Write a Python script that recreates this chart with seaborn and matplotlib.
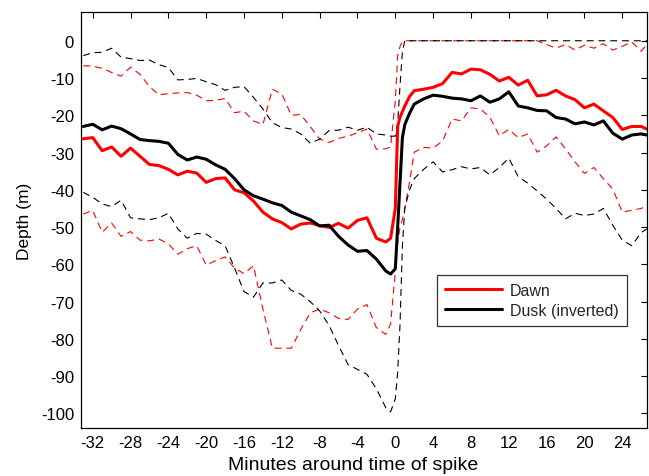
import numpy as np
import pandas as pd
import matplotlib
matplotlib.use("Agg")
import matplotlib.pyplot as plt
from matplotlib.lines import Line2D
import seaborn as sns

# ---- data (minutes around spike) ----
minutes = [-33, -32, -31, -30, -29, -28, -27, -26, -25, -24, -23, -22, -21, -20,
           -19, -18, -17, -16, -15, -14, -13, -12, -11, -10, -9, -8, -7, -6, -5,
           -4, -3, -2, -1, -0.5, 0, 0.25, 0.5, 0.75, 1, 1.5, 2, 3, 4, 5, 6, 7, 8,
           9, 10, 11, 12, 13, 14, 15, 16, 17, 18, 19, 20, 21, 22, 23, 24, 25, 26,
           26.6]

dawn_mean = [-26.3, -26.0, -29.5, -28.5, -31.0, -28.8, -31.0, -33.2, -33.5, -34.5,
             -36.0, -35.0, -35.5, -38.0, -37.0, -36.8, -40.0, -40.8, -43.0, -46.0,
             -47.8, -48.8, -50.5, -49.2, -48.9, -49.6, -50.1, -49.0, -50.3, -48.2,
             -47.5, -53.0, -54.0, -53.0, -45.0, -23.0, -20.5, -19.0, -17.5, -15.0,
             -13.4, -13.0, -12.5, -11.5, -8.5, -8.9, -7.6, -7.8, -9.0, -10.8, -9.8,
             -11.9, -10.6, -14.8, -14.5, -13.3, -14.8, -15.8, -18.0, -17.0, -18.8,
             -20.6, -23.8, -23.0, -23.0, -23.7]

dusk_mean = [-23.0, -22.4, -23.9, -22.9, -23.6, -25.0, -26.5, -26.8, -27.0, -27.5,
             -30.5, -32.0, -31.2, -31.8, -33.3, -34.5, -37.0, -40.0, -41.6, -42.5,
             -43.5, -44.2, -46.0, -47.0, -48.0, -49.7, -49.5, -52.5, -54.8, -56.5,
             -56.3, -58.6, -61.8, -62.6, -61.2, -50.0, -38.0, -26.0, -22.5, -19.5,
             -17.0, -15.6, -14.6, -14.9, -15.4, -15.6, -16.1, -14.8, -16.5, -15.6,
             -13.7, -17.5, -18.0, -18.7, -18.8, -20.6, -21.0, -22.3, -21.8, -22.6,
             -21.5, -24.8, -26.4, -25.3, -25.0, -25.3]

dawn_upper = [-6.7, -6.8, -7.4, -8.5, -9.5, -7.1, -9.0, -12.3, -14.5, -14.2, -14.0,
              -13.9, -14.6, -16.1, -16.0, -15.5, -19.3, -18.9, -21.5, -22.5, -13.0,
              -14.3, -20.0, -19.8, -23.0, -26.4, -27.3, -26.2, -25.6, -24.7, -23.7,
              -29.1, -29.0, -28.5, -16.0, -4.0, -1.5, -0.2, 0.0, 0.0, 0.0, 0.0, 0.0,
              0.0, 0.0, 0.0, 0.0, 0.0, 0.0, 0.0, 0.0, 0.0, 0.0, 0.0, -1.0, -2.0,
              -1.0, -2.5, -1.2, -2.0, -0.8, -2.5, -1.5, -0.3, -2.8, -1.0]

dawn_lower = [-46.5, -45.5, -51.4, -48.9, -52.5, -51.2, -53.5, -53.7, -53.2, -54.5,
              -57.3, -55.8, -55.0, -60.2, -59.0, -58.0, -61.0, -62.5, -60.4, -72.0,
              -82.5, -82.5, -82.5, -77.5, -73.0, -72.0, -73.0, -74.5, -74.8, -72.0,
              -70.8, -77.0, -78.8, -76.0, -62.0, -54.0, -50.0, -48.0, -45.0, -38.0,
              -29.9, -28.6, -28.8, -26.9, -21.0, -21.5, -18.0, -18.3, -20.5, -25.5,
              -23.8, -26.0, -25.0, -29.9, -28.2, -25.8, -29.0, -32.5, -35.6, -34.0,
              -37.0, -39.8, -46.0, -45.5, -45.0, -44.3]

dusk_upper = [-4.0, -3.2, -3.1, -2.0, -4.4, -4.8, -5.3, -5.2, -6.4, -7.2, -10.5,
              -10.4, -10.1, -11.0, -11.8, -13.3, -12.5, -12.3, -15.2, -18.3, -22.0,
              -23.3, -23.7, -25.0, -27.5, -26.4, -24.1, -24.0, -23.2, -24.0, -23.2,
              -25.0, -25.3, -25.6, -25.6, -22.0, -12.0, -3.0, 0.0, 0.0, 0.0, 0.0,
              0.0, 0.0, 0.0, 0.0, 0.0, 0.0, 0.0, 0.0, 0.0, 0.0, 0.0, 0.0, 0.0, 0.0,
              0.0, 0.0, 0.0, 0.0, 0.0, 0.0, 0.0, 0.0, 0.0, 0.0]

dusk_lower = [-40.7, -42.0, -43.8, -44.5, -42.8, -47.5, -47.8, -48.0, -47.5, -46.3,
              -50.5, -53.0, -51.7, -51.9, -53.6, -55.0, -61.0, -67.3, -68.8, -65.0,
              -65.0, -64.2, -67.0, -68.0, -70.0, -72.5, -76.4, -81.8, -86.9, -88.2,
              -89.5, -93.4, -98.5, -99.6, -96.1, -89.0, -76.0, -55.0, -45.0, -40.0,
              -37.0, -34.5, -32.5, -35.2, -34.6, -33.8, -34.4, -34.0, -36.0, -34.0,
              -31.5, -36.5, -38.2, -40.3, -42.5, -45.0, -47.8, -46.3, -46.9, -46.5,
              -45.0, -49.5, -53.5, -55.0, -51.5, -50.5]

xticks = list(range(-32, 25, 4))
yticks = list(range(-100, 1, 10))
legend_labels = ["Dawn", "Dusk (inverted)"]

# ---- style ----
sns.set_theme(style="white")
plt.rcParams["font.family"] = ["Liberation Sans", "DejaVu Sans"]
plt.rcParams["axes.unicode_minus"] = False
plt.rcParams["lines.scale_dashes"] = False

fig = plt.figure(figsize=(6.49, 4.77), dpi=100)
ax = fig.add_axes([0.1248, 0.1000, 0.8726, 0.8734])

df = pd.DataFrame({
    "t": minutes,
    "dawn_mean": dawn_mean, "dusk_mean": dusk_mean,
    "dawn_upper": dawn_upper, "dawn_lower": dawn_lower,
    "dusk_upper": dusk_upper, "dusk_lower": dusk_lower,
})

dash = (5, 3.5)
for col, colr in [("dawn_upper", "#ff0000"), ("dawn_lower", "#ff0000"),
                  ("dusk_upper", "black"), ("dusk_lower", "black")]:
    sns.lineplot(data=df, x="t", y=col, ax=ax, color=colr, linewidth=0.8,
                 dashes=False, linestyle=(0, dash), legend=False, sort=False)

sns.lineplot(data=df, x="t", y="dawn_mean", ax=ax, color="#ff0000", linewidth=2.2,
             legend=False, sort=False)
sns.lineplot(data=df, x="t", y="dusk_mean", ax=ax, color="black", linewidth=2.2,
             legend=False, sort=False)

ax.set_xlim(-33.24, 26.65)
ax.set_ylim(-104, 7.8)
ax.set_xticks(xticks)
ax.set_yticks(yticks)
ax.set_xticklabels([str(v) for v in xticks])
ax.set_yticklabels([str(v) for v in yticks])
ax.tick_params(direction="in", length=4, width=0.8, top=True, right=True,
               labelsize=12, colors="black", pad=5)
ax.tick_params(axis="x", top=True, labeltop=False, pad=5)
ax.tick_params(axis="y", right=True, labelright=False)
for s in ax.spines.values():
    s.set_visible(True)
    s.set_color("black")
    s.set_linewidth(0.9)

ax.set_xlabel("Minutes around time of spike", fontsize=14, color="black")
ax.xaxis.set_label_coords(0.48, -0.066)
ax.set_ylabel("Depth (m)", fontsize=12.5, color="black", labelpad=6)

handles = [Line2D([], [], color="#ff0000", linewidth=2.2),
           Line2D([], [], color="black", linewidth=2.2)]
leg = ax.legend(handles, legend_labels, loc="upper left",
                bbox_to_anchor=(0.628, 0.368), fontsize=11.5, frameon=True,
                fancybox=False, shadow=False, handlelength=3.6, borderpad=0.5,
                labelspacing=0.3, handletextpad=0.5, borderaxespad=0)
leg.get_frame().set_edgecolor("black")
leg.get_frame().set_linewidth(0.9)

fig.savefig("out.png", dpi=100)
